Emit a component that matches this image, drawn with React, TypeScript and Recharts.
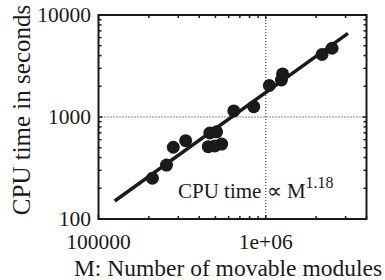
import React from 'react';
import {
    ScatterChart,
    Scatter,
    XAxis,
    YAxis,
    ReferenceLine,
    ReferenceArea,
} from 'recharts';

// measured runs: movable modules vs CPU seconds
const modules = [
    210000, 255000, 280000, 332000, 453000, 463000, 508000, 496000, 545000,
    644000, 847000, 1050000, 1240000, 1260000, 2170000, 2490000,
];
const cpuSeconds = [
    251, 338, 505, 586, 512, 697, 716, 520, 543,
    1146, 1262, 2037, 2306, 2642, 4101, 4720,
];

// fitted power law, end points
const fitModules = [125000, 3100000];
const fitSeconds = [150, 6600];

const xTicks = [
    100000, 200000, 300000, 400000, 500000, 600000, 700000, 800000, 900000,
    1000000, 2000000, 3000000, 4000000,
];
const yTicks = [
    100, 200, 300, 400, 500, 600, 700, 800, 900,
    1000, 2000, 3000, 4000, 5000, 6000, 7000, 8000, 9000, 10000,
];
const xLabels: Record<number, string> = { 100000: '100000', 1000000: '1e+06' };
const yLabels: Record<number, string> = { 100: '100', 1000: '1000', 10000: '10000' };

const points = modules.map((m, i) => ({ m, t: cpuSeconds[i] }));
const fit = fitModules.map((m, i) => ({ m, t: fitSeconds[i] }));

const W = 385;
const H = 280;
const LEFT = 98.5;
const RIGHT = 18.5;
const TOP = 15;
const BOTTOM = 61;
const PLOT_W = W - LEFT - RIGHT;
const PLOT_H = H - TOP - BOTTOM;
const FONT = '"Liberation Serif", "Times New Roman", serif';
const INK = '#1a1a1a';

function XTick(props: any) {
    const { x, y, payload } = props;
    const v = payload.value;
    const len = xLabels[v] ? 4 : 3;
    return (
        <g>
            <line x1={x} y1={y} x2={x} y2={y - len} stroke={INK} strokeWidth={1.5} />
            <line x1={x} y1={y - PLOT_H} x2={x} y2={y - PLOT_H + len} stroke={INK} strokeWidth={1.5} />
            {xLabels[v] && (
                <text x={x} y={y + 29.5} textAnchor="middle" fontSize={21.5} fontFamily={FONT} fill={INK}>
                    {xLabels[v]}
                </text>
            )}
        </g>
    );
}

function YTick(props: any) {
    const { x, y, payload } = props;
    const v = payload.value;
    const len = yLabels[v] ? 4 : 3;
    return (
        <g>
            <line x1={x} y1={y} x2={x + len} y2={y} stroke={INK} strokeWidth={1.5} />
            <line x1={x + PLOT_W} y1={y} x2={x + PLOT_W - len} y2={y} stroke={INK} strokeWidth={1.5} />
            {yLabels[v] && (
                <text x={x - 7.5} y={y + 6.5} textAnchor="end" fontSize={21.5} fontFamily={FONT} fill={INK}>
                    {yLabels[v]}
                </text>
            )}
        </g>
    );
}

const dot = (p: any) => <circle cx={p.cx} cy={p.cy} r={6.5} fill={INK} />;
const noDot = () => <g />;

export default function App() {
    return (
        <div style={{ position: 'absolute', left: 0, top: 0, width: W, height: H, background: '#fff' }}>
            <ScatterChart
                width={W}
                height={H}
                margin={{ top: TOP, right: RIGHT, bottom: 0, left: 0 }}
            >
                <XAxis
                    type="number"
                    dataKey="m"
                    scale="log"
                    domain={[100000, 4000000]}
                    allowDataOverflow
                    ticks={xTicks}
                    interval={0}
                    tick={<XTick />}
                    tickSize={0}
                    tickMargin={0}
                    tickLine={false}
                    axisLine={false}
                    height={BOTTOM}
                    label={{
                        content: () => (
                            <text x={228} y={275.5} textAnchor="middle" fontSize={23.5} fontFamily={FONT} fill={INK}>
                                M: Number of movable modules
                            </text>
                        ),
                    }}
                />
                <YAxis
                    type="number"
                    dataKey="t"
                    scale="log"
                    domain={[100, 10000]}
                    allowDataOverflow
                    ticks={yTicks}
                    interval={0}
                    tick={<YTick />}
                    tickSize={0}
                    tickMargin={0}
                    tickLine={false}
                    axisLine={false}
                    width={LEFT}
                    label={{
                        content: () => (
                            <text
                                x={30}
                                y={110}
                                transform="rotate(-90 30 110)"
                                textAnchor="middle"
                                fontSize={25}
                                fontFamily={FONT}
                                fill={INK}
                            >
                                CPU time in seconds
                            </text>
                        ),
                    }}
                />
                <ReferenceLine x={1000000} stroke={INK} strokeWidth={1} strokeDasharray="1 2" />
                <ReferenceLine y={1000} stroke={INK} strokeWidth={1} strokeDasharray="1 2" />
                <ReferenceArea
                    x1={100000}
                    x2={4000000}
                    y1={100}
                    y2={10000}
                    fill="none"
                    stroke={INK}
                    strokeWidth={2}
                    fillOpacity={0}
                />
                <Scatter
                    data={fit}
                    line={{ stroke: INK, strokeWidth: 3.5 }}
                    lineType="joint"
                    shape={noDot}
                    isAnimationActive={false}
                />
                <Scatter data={points} shape={dot} isAnimationActive={false} />
                <text x={178} y={198} fontSize={21} fontFamily={FONT} fill={INK}>
                    CPU time ∝ M
                    <tspan dy={-10} fontSize={16}>1.18</tspan>
                </text>
            </ScatterChart>
        </div>
    );
}
